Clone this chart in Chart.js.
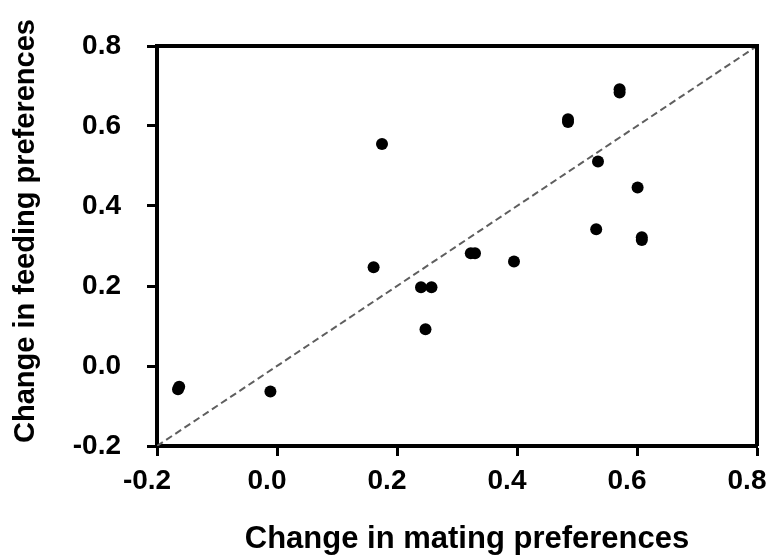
<!DOCTYPE html>
<html>
<head>
<meta charset="utf-8">
<script src="https://cdn.jsdelivr.net/npm/chart.js@4.4.1/dist/chart.umd.min.js"></script>
<style>
  html, body { margin: 0; padding: 0; background: #fff; }
  #wrap { width: 770px; height: 559px; }
</style>
</head>
<body>
<div id="wrap"><canvas id="c" width="770" height="559"></canvas></div>
<script>
// Data
const matingChange  = [-0.163, -0.165, -0.011, 0.161, 0.175, 0.240, 0.2575, 0.2475, 0.323, 0.330, 0.395, 0.485, 0.485, 0.532, 0.535, 0.571, 0.571, 0.601, 0.608, 0.608];
const feedingChange = [-0.052, -0.058, -0.064, 0.247, 0.555, 0.197, 0.197, 0.092, 0.282, 0.282, 0.261, 0.617, 0.610, 0.342, 0.511, 0.692, 0.684, 0.446, 0.322, 0.315];
const identityLineX = [-0.2, 0.8];
const identityLineY = [-0.2, 0.8];
const xTickValues = [-0.2, 0.0, 0.2, 0.4, 0.6, 0.8];
const yTickValues = [-0.2, 0.0, 0.2, 0.4, 0.6, 0.8];
const xTitle = 'Change in mating preferences';
const yTitle = 'Change in feeding preferences';

const FONT = '"Liberation Sans", Arial, sans-serif';

const frame = {
  id: 'frame',
  afterDatasetsDraw(chart) {
    const a = chart.chartArea, ctx = chart.ctx;
    ctx.save();
    ctx.strokeStyle = '#000';
    ctx.lineWidth = 4;
    ctx.beginPath();
    ctx.moveTo(a.left, a.top);
    ctx.lineTo(a.right, a.top);
    ctx.lineTo(a.right, a.bottom);
    ctx.stroke();
    ctx.restore();
  }
};

function fixedTicks(values) {
  return function(scale) {
    scale.ticks = values.map(v => ({ value: v }));
  };
}

// shift an axis title along its axis by a few pixels
function shiftTitle(scale, dx, dy) {
  if (scale._titleShifted) return;
  const orig = scale.drawTitle;
  scale.drawTitle = function() {
    this.left += dx; this.right += dx; this.top += dy; this.bottom += dy;
    orig.call(this);
    this.left -= dx; this.right -= dx; this.top -= dy; this.bottom -= dy;
  };
  scale._titleShifted = true;
}

new Chart(document.getElementById('c'), {
  type: 'scatter',
  data: {
    datasets: [
      {
        type: 'line',
        data: identityLineX.map((x, i) => ({ x, y: identityLineY[i] })),
        borderColor: '#5f5f5f',
        borderWidth: 2,
        borderDash: [7, 4],
        pointRadius: 0,
        fill: false,
        order: 2
      },
      {
        data: matingChange.map((x, i) => ({ x, y: feedingChange[i] })),
        backgroundColor: '#000',
        borderColor: '#000',
        borderWidth: 0,
        pointRadius: 6,
        order: 1
      }
    ]
  },
  plugins: [frame],
  options: {
    responsive: false,
    animation: false,
    layout: { padding: { top: 46, right: 13, bottom: 0, left: 0 } },
    plugins: { legend: { display: false }, tooltip: { enabled: false } },
    scales: {
      x: {
        type: 'linear',
        min: -0.2, max: 0.8,
        afterBuildTicks: fixedTicks(xTickValues),
        afterFit(s) { s.height = 113; s.paddingLeft = 0; s.paddingRight = 0; shiftTitle(s, 10, 0); },
        grid: { drawOnChartArea: false, drawTicks: true, tickLength: 10, tickWidth: 3, tickColor: '#000' },
        border: { display: true, color: '#000', width: 4 },
        ticks: {
          color: '#000',
          font: { family: FONT, size: 28, weight: 'bold' },
          padding: 8,
          labelOffset: -10,
          maxRotation: 0,
          callback: v => v.toFixed(1)
        },
        title: {
          display: true, text: xTitle, color: '#000',
          font: { family: FONT, size: 31, weight: 'bold' },
          padding: { top: 0, bottom: 1 }
        }
      },
      y: {
        type: 'linear',
        min: -0.2, max: 0.8,
        afterBuildTicks: fixedTicks(yTickValues),
        afterFit(s) { s.width = 157; s.paddingTop = 0; s.paddingBottom = 0; shiftTitle(s, 0, -15); },
        grid: { drawOnChartArea: false, drawTicks: true, tickLength: 10, tickWidth: 3, tickColor: '#000' },
        border: { display: true, color: '#000', width: 4 },
        ticks: {
          color: '#000',
          font: { family: FONT, size: 28, weight: 'bold' },
          padding: 26,
          callback: v => v.toFixed(1)
        },
        title: {
          display: true, text: yTitle, color: '#000',
          font: { family: FONT, size: 29, weight: 'bold' },
          padding: { top: 9, bottom: 0 }
        }
      }
    }
  }
});
</script>
</body>
</html>
